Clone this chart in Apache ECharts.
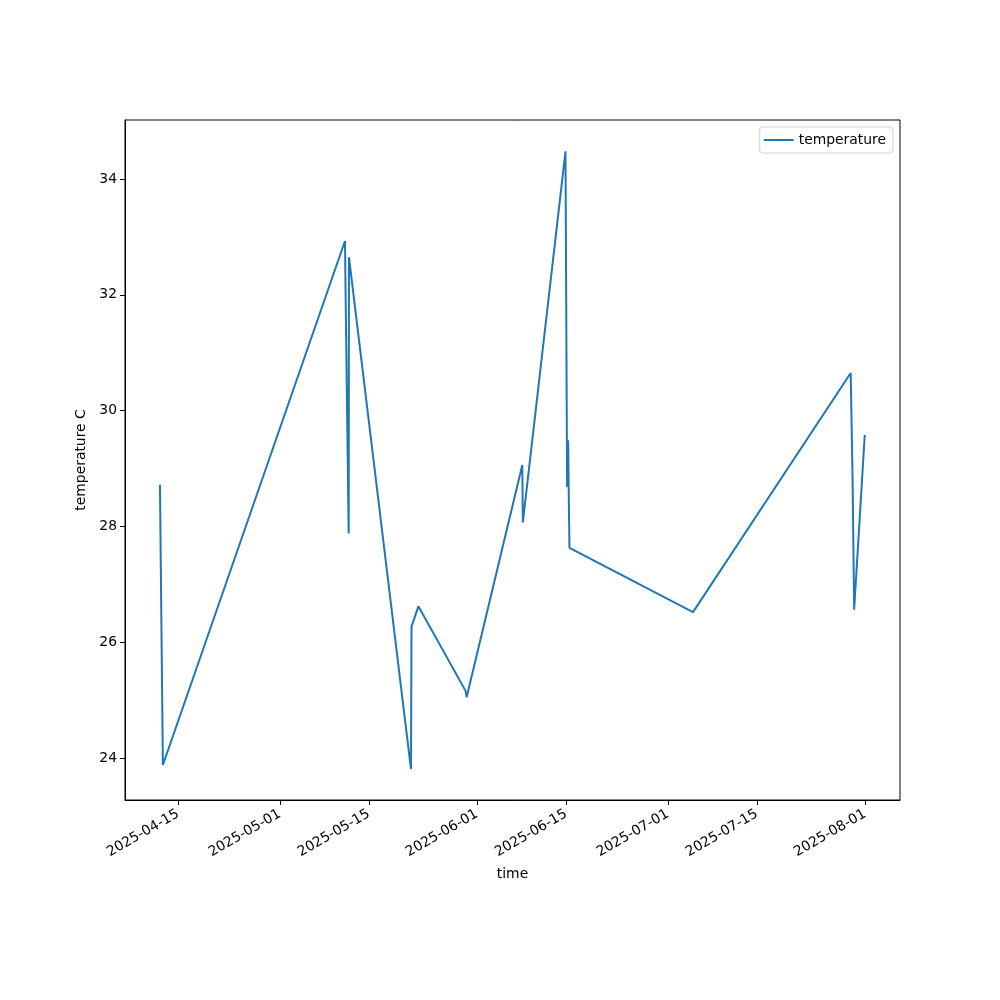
<!DOCTYPE html>
<html>
<head>
<meta charset="utf-8">
<script src="https://cdn.jsdelivr.net/npm/echarts@6/dist/echarts.min.js"></script>
<style>
  html, body { margin: 0; padding: 0; background: #fff; }
  #chart { width: 1000px; height: 1000px; }
</style>
</head>
<body>
<div id="chart"></div>
<script>
// readings (UTC)
const times = [
  '2025-04-12T04:00', '2025-04-12T15:00', '2025-05-11T06:00', '2025-05-11T10:00',
  '2025-05-11T20:00', '2025-05-11T21:00', '2025-05-21T15:00', '2025-05-21T17:00',
  '2025-05-22T19:00', '2025-05-30T05:00', '2025-05-30T09:00', '2025-06-08T03:00',
  '2025-06-08T05:00', '2025-06-14T22:00', '2025-06-15T04:00', '2025-06-15T08:00',
  '2025-06-15T10:00', '2025-06-15T13:00', '2025-07-04T23:00', '2025-07-29T18:00',
  '2025-07-30T01:00', '2025-07-30T07:00', '2025-07-31T23:00'
]
const temps = [
  28.72, 23.88, 32.93, 31.4,
  27.88, 32.65, 23.81, 26.27,
  26.62, 25.16, 25.05, 29.06,
  28.07, 34.48, 28.68, 29.49,
  28.66, 27.63, 26.52, 30.65,
  28.85, 26.56, 29.58
]
const xTicks = ['2025-04-15', '2025-05-01', '2025-05-15', '2025-06-01', '2025-06-15', '2025-07-01', '2025-07-15', '2025-08-01']
const yTicks = [24, 26, 28, 30, 32, 34]

const DAY = 86400000
const ts = s => Date.parse(s + (s.length > 10 ? ':00Z' : 'T00:00:00Z'))
const xTickVals = xTicks.map(ts)
const base = ts('2025-04-15')
const pad = n => (n < 10 ? '0' : '') + n
const fmtDate = v => {
  const d = new Date(v)
  return d.getUTCFullYear() + '-' + pad(d.getUTCMonth() + 1) + '-' + pad(d.getUTCDate())
}

const font = 'DejaVu Sans'
const chart = echarts.init(document.getElementById('chart'))
chart.setOption({
  animation: false,
  textStyle: { fontFamily: font },
  grid: {
    left: 125, right: 100, top: 120, bottom: 200,
    show: true, borderColor: '#000', borderWidth: 1, backgroundColor: 'transparent'
  },
  legend: {
    right: 107, top: 127,
    orient: 'vertical',
    borderColor: '#d0d0d0', borderWidth: 1, borderRadius: 3,
    padding: [6, 7, 6, 4],
    itemWidth: 30, itemHeight: 2, itemGap: 6,
    icon: 'rect',
    textStyle: { fontFamily: font, fontSize: 13.9, color: '#000' },
    data: ['temperature']
  },
  xAxis: {
    type: 'value',
    min: base - 8.33 * DAY,
    max: base + 113.5 * DAY,
    name: 'time',
    nameLocation: 'middle',
    nameGap: 67,
    nameTextStyle: { fontFamily: font, fontSize: 13.9, color: '#000' },
    axisLine: { show: true, lineStyle: { color: '#000', width: 1 } },
    axisTick: { show: true, customValues: xTickVals, length: 5, lineStyle: { color: '#000' } },
    axisLabel: {
      customValues: xTickVals,
      rotate: 30,
      margin: 13,
      fontFamily: font, fontSize: 13.9, color: '#000',
      formatter: v => fmtDate(v)
    },
    splitLine: { show: false }
  },
  yAxis: {
    type: 'value',
    min: 23.275,
    max: 35.02,
    name: 'temperature C',
    nameLocation: 'middle',
    nameGap: 33,
    nameTextStyle: { fontFamily: font, fontSize: 13.9, color: '#000' },
    axisLine: { show: true, lineStyle: { color: '#000', width: 1 } },
    axisTick: { show: true, customValues: yTicks, length: 5, lineStyle: { color: '#000' } },
    axisLabel: {
      customValues: yTicks,
      margin: 8,
      fontFamily: font, fontSize: 13.9, color: '#000'
    },
    splitLine: { show: false }
  },
  series: [
    {
      name: 'temperature',
      type: 'line',
      showSymbol: false,
      symbol: 'none',
      color: '#1f77b4',
      lineStyle: { color: '#1f77b4', width: 2 },
      data: times.map((t, i) => [ts(t), temps[i]])
    }
  ]
})
</script>
</body>
</html>
